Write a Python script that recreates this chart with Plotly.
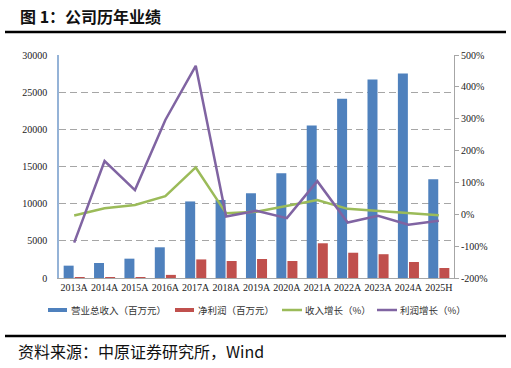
import plotly.graph_objects as go

categories = ["2013A", "2014A", "2015A", "2016A", "2017A", "2018A", "2019A",
              "2020A", "2021A", "2022A", "2023A", "2024A", "2025H"]
revenue = [1660, 2020, 2600, 4130, 10300, 10500, 11400, 14100, 20500, 24100, 26700, 27500, 13300]
profit = [25, 70, 120, 420, 2500, 2290, 2560, 2290, 4670, 3400, 3200, 2150, 1350]
rev_growth = [-0.04, 0.19, 0.29, 0.57, 1.47, 0.03, 0.08, 0.26, 0.45, 0.17, 0.10, 0.03, -0.03]
profit_growth = [-0.89, 1.67, 0.76, 2.96, 4.66, -0.07, 0.11, -0.12, 1.04, -0.26, -0.05, -0.33, -0.20]
left_ticks = [0, 5000, 10000, 15000, 20000, 25000, 30000]
left_labels = ["0", "5000", "10000", "15000", "20000", "25000", "30000"]
right_ticks = [-2, -1, 0, 1, 2, 3, 4, 5]
right_labels = ["-200%", "-100%", "0%", "100%", "200%", "300%", "400%", "500%"]
series_names = ["营业总收入（百万元）", "净利润（百万元）", "收入增长（%）", "利润增长（%）"]
colors = ["#4F81BD", "#C0504D", "#9BBB59", "#8064A2"]

W, H = 511, 368
L, R, T, B = 59, 454, 55, 278
pw, ph = R - L, B - T


def px(x):
    return (x - L) / pw


def py(y):
    return (B - y) / ph


serif = "Liberation Serif, Times New Roman, serif"
cjk = "Noto Sans CJK SC, sans-serif"

fig = go.Figure()
fig.add_trace(go.Bar(x=categories, y=revenue, name=series_names[0],
                     marker=dict(color=colors[0], line=dict(width=0))))
fig.add_trace(go.Bar(x=categories, y=profit, name=series_names[1],
                     marker=dict(color=colors[1], line=dict(width=0))))
fig.add_trace(go.Scatter(x=categories, y=rev_growth, name=series_names[2], yaxis="y2",
                         mode="lines", line=dict(color=colors[2], width=2.5)))
fig.add_trace(go.Scatter(x=categories, y=profit_growth, name=series_names[3], yaxis="y2",
                         mode="lines", line=dict(color=colors[3], width=2.5)))

fig.update_layout(
    width=W, height=H,
    margin=dict(l=L, r=W - R, t=T, b=H - B, pad=0, autoexpand=False),
    paper_bgcolor="white", plot_bgcolor="white",
    barmode="group", bargap=0.27, bargroupgap=0.1,
    showlegend=False,
    xaxis=dict(type="category", showgrid=False, showline=True, linecolor="#A6A6A6",
               linewidth=1, ticks="", tickfont=dict(family=serif, size=10, color="#222222"),
               zeroline=False, automargin=False),
    yaxis=dict(range=[0, 30000], tickvals=left_ticks, ticktext=left_labels, showgrid=True,
               gridcolor="#A6A6A6", griddash="7px,4px", gridwidth=1, showline=True,
               linecolor="#95B3D7", linewidth=1.5, ticks="",
               tickfont=dict(family=serif, size=10, color="#222222"),
               zeroline=False, ticklabelstandoff=8, automargin=False),
    yaxis2=dict(range=[-2, 5], tickvals=right_ticks, ticktext=right_labels, overlaying="y",
                side="right", showgrid=False, showline=True, linecolor="#A6A6A6", linewidth=1,
                ticks="outside", ticklen=4, tickcolor="#A6A6A6",
                tickfont=dict(family=serif, size=10, color="#222222"), zeroline=False,
                automargin=False),
    font=dict(family=cjk),
)

# title and source
fig.add_annotation(x=px(18), y=py(16), xref="paper", yref="paper", xanchor="left",
                   yanchor="middle", showarrow=False,
                   text="<b>图 1：公司历年业绩</b>",
                   font=dict(family=cjk, size=16, color="#111111"))
fig.add_annotation(x=px(16), y=py(351), xref="paper", yref="paper", xanchor="left",
                   yanchor="middle", showarrow=False,
                   text="资料来源：中原证券研究所，Wind",
                   font=dict(family=cjk, size=16, color="#111111"))
fig.add_shape(type="line", xref="paper", yref="paper", x0=px(5), x1=px(506),
              y0=py(32), y1=py(32), line=dict(color="black", width=2.5))
fig.add_shape(type="line", xref="paper", yref="paper", x0=px(5), x1=px(506),
              y0=py(336), y1=py(336), line=dict(color="black", width=2.5))

# manual legend
leg_y = 310
sym_x = [48, 175, 282, 377]
for i, name in enumerate(series_names):
    x0 = sym_x[i]
    if i < 2:
        fig.add_shape(type="rect", xref="paper", yref="paper", x0=px(x0), x1=px(x0 + 19),
                      y0=py(leg_y + 2), y1=py(leg_y - 2), fillcolor=colors[i],
                      line=dict(width=0))
    else:
        fig.add_shape(type="line", xref="paper", yref="paper", x0=px(x0), x1=px(x0 + 20),
                      y0=py(leg_y), y1=py(leg_y), line=dict(color=colors[i], width=2.5))
    fig.add_annotation(x=px(x0 + 21), y=py(leg_y), xref="paper", yref="paper",
                       xanchor="left", yanchor="middle", showarrow=False, text=name,
                       font=dict(family=cjk, size=9.5, color="#333333"))

fig.write_html("out.html", config={"displayModeBar": False},
               post_script="document.body.style.margin='0';document.body.style.padding='0';")
